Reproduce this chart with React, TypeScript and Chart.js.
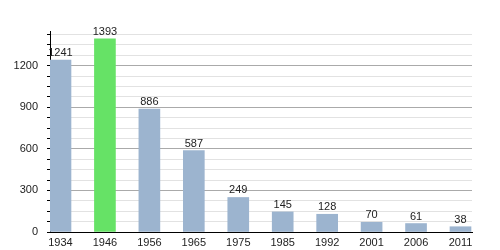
import React, { useEffect, useRef } from "react";
import { Chart, registerables } from "chart.js";

Chart.register(...registerables);

const years: string[] = ["1934", "1946", "1956", "1965", "1975", "1985", "1992", "2001", "2006", "2011"];
const population: number[] = [1241, 1393, 886, 587, 249, 145, 128, 70, 61, 38];
const highlightYear = "1946";
const yMajorStep = 300;
const yMinorStep = 75;
const yMax = 1450;

const barColor = "#9cb4cf";
const highlightColor = "#66e266";

const valueLabels = {
  id: "valueLabels",
  afterDatasetsDraw(chart: any) {
    const ctx = chart.ctx;
    const meta = chart.getDatasetMeta(0);
    ctx.save();
    ctx.font = "11px 'Liberation Sans', Arial, sans-serif";
    ctx.fillStyle = "#222";
    ctx.textAlign = "center";
    ctx.textBaseline = "alphabetic";
    meta.data.forEach((el: any, i: number) => {
      ctx.fillText(String(population[i]), el.x, el.y - 4);
    });
    ctx.restore();
  },
};

export default function App() {
  const ref = useRef<HTMLCanvasElement | null>(null);
  useEffect(() => {
    if (!ref.current) return;
    Chart.defaults.font.family = "'Liberation Sans', Arial, sans-serif";
    const chart = new Chart(ref.current, {
      type: "bar",
      data: {
        datasets: [
          {
            data: population.map((v, i) => ({ x: i, y: v })),
            backgroundColor: years.map((y) => (y === highlightYear ? highlightColor : barColor)),
            barThickness: 21,
          },
        ],
      },
      options: {
        animation: false,
        responsive: true,
        maintainAspectRatio: false,
        layout: { padding: { top: 31, right: 28, left: 0, bottom: 0 } },
        plugins: { legend: { display: false }, tooltip: { enabled: false } },
        scales: {
          x: {
            type: "linear",
            offset: false,
            min: -0.236,
            max: 9.259,
            afterBuildTicks: (scale: any) => {
              scale.ticks = years.map((_, i) => ({ value: i }));
            },
            grid: { display: false, drawTicks: false },
            border: { display: true, color: "#000", width: 1 },
            ticks: {
              padding: 4,
              color: "#222",
              font: { size: 11 },
              maxRotation: 0,
              autoSkip: false,
              callback: (v: any) => years[Math.round(Number(v))] ?? "",
            },
            afterFit: (scale: any) => {
              scale.height = 18;
            },
          },
          y: {
            min: 0,
            max: yMax,
            afterBuildTicks: (scale: any) => {
              const t: any[] = [];
              for (let v = 0; v <= yMax; v += yMinorStep) t.push({ value: v });
              scale.ticks = t;
            },
            grid: {
              color: (c: any) => (c.tick && c.tick.value % yMajorStep === 0 ? "#aaaaaa" : "#e2e2e2"),
              tickColor: "#000",
              tickLength: 3,
            },
            border: { display: true, color: "#000", width: 1 },
            ticks: {
              padding: 9,
              color: "#222",
              font: { size: 11 },
              autoSkip: false,
              callback: (v: any) => (Number(v) % yMajorStep === 0 ? String(v) : ""),
            },
            afterFit: (scale: any) => {
              scale.width = 50;
            },
          },
        },
      },
      plugins: [valueLabels],
    });
    return () => chart.destroy();
  }, []);
  return (
    <div style={{ position: "fixed", left: 0, top: 0, width: 500, height: 250, background: "#fff" }}>
      <canvas ref={ref} />
    </div>
  );
}
